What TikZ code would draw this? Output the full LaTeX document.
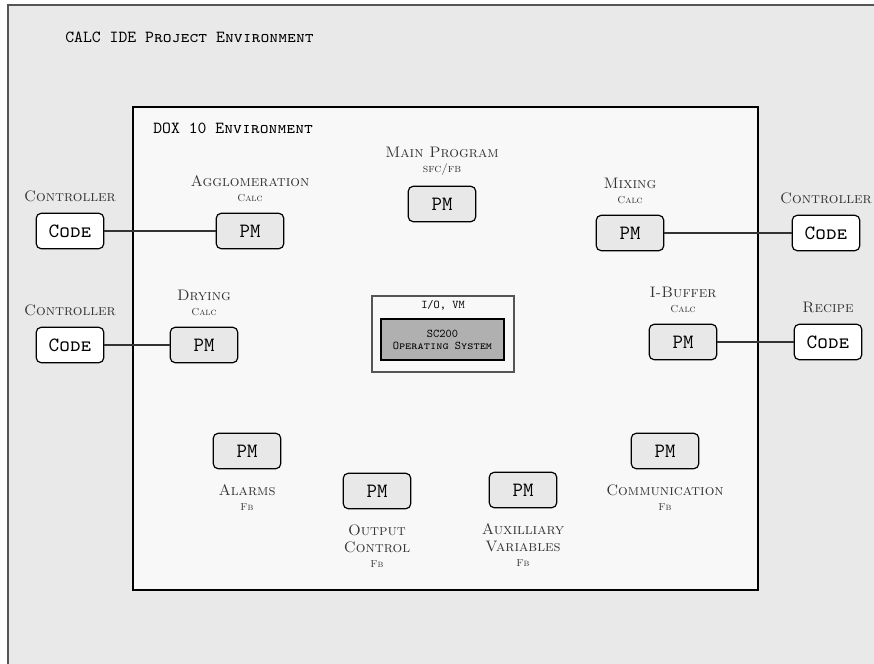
\documentclass[tikz,border=0pt]{standalone}
\usepackage{tikz}
\usetikzlibrary{positioning}
\definecolor{framegray}{HTML}{555555}
\definecolor{projfill}{HTML}{E9E9E9}
\definecolor{doxfill}{HTML}{F8F8F8}
\definecolor{pmfill}{HTML}{E8E8E8}
\definecolor{osfill}{HTML}{B0B0B0}
\definecolor{lbltext}{HTML}{333333}
\newcommand{\kind}[1]{{\fontsize{6}{7}\selectfont #1}}

\begin{document}
\begin{tikzpicture}[
  x=0.5917pt, y=-0.5917pt,
  pm/.style={rectangle, rounded corners=3pt, draw=black, fill=#1, line width=0.7pt,
             minimum width=40pt, minimum height=21pt, inner sep=0pt, font=\large\ttfamily},
  pm/.default=pmfill,
  code/.style={pm=white, font=\large\ttfamily\scshape},
  lbl/.style={font=\small\scshape, text=lbltext, align=center, inner sep=1pt},
  hdr/.style={font=\ttfamily\scshape, anchor=west, inner sep=0pt},
  wire/.style={draw=lbltext, line width=0.7pt},
]
  \clip (0,0) rectangle (874,664);
  % environments
  \draw[framegray, fill=projfill, line width=1.3pt] (8,5) rectangle (900,700);
  \draw[black, fill=doxfill, line width=1pt] (133,107) rectangle (758,590);
  \node[hdr] (proj) at (65,37) {CALC IDE Project Environment};
  \node[hdr] (dox) at (153,128) {DOX 10 Environment};

  % operating system
  \node[rectangle, draw=framegray, fill=doxfill, line width=0.7pt,
        minimum width=84pt, minimum height=45pt] (io) at (443,334) {};
  \node[font=\scriptsize\ttfamily\scshape, inner sep=0pt] (iolbl) at (443,305) {I/O, VM};
  \node[rectangle, draw=black, fill=osfill, line width=0.7pt, align=center,
        minimum width=72.8pt, minimum height=24.3pt, inner sep=1pt,
        font=\scriptsize\ttfamily\scshape] (os) at (442.5,339.5) {SC200\\[-1pt]Operating System};

  % program modules
  \node[pm] (main) at (442,204) {PM};
  \node[pm] (aggl) at (250,231) {PM};
  \node[pm] (mix)  at (630,233) {PM};
  \node[pm] (dry)  at (204,345) {PM};
  \node[pm] (ibuf) at (683,342) {PM};
  \node[pm] (alarm) at (247,451) {PM};
  \node[pm] (outc) at (377,491) {PM};
  \node[pm] (aux)  at (523,490) {PM};
  \node[pm] (comm) at (665,451) {PM};

  % controller code
  \node[code] (ctrlA) at (70,231) {Code};
  \node[code] (ctrlB) at (70,345) {Code};
  \node[code] (ctrlC) at (826,233) {Code};
  \node[code] (recipe) at (828,342) {Code};

  % labels
  \node[lbl, above=5pt of main] {Main Program\\[-2pt]{\scriptsize sfc/fb}};
  \node[lbl, above=5pt of aggl] {Agglomeration\\[-2pt]\kind{Calc}};
  \node[lbl, above=5pt of mix] {Mixing\\[-2pt]\kind{Calc}};
  \node[lbl, above=5pt of dry] {Drying\\[-2pt]\kind{Calc}};
  \node[lbl, above=5pt of ibuf] {I-Buffer\\[-2pt]\kind{Calc}};
  \node[lbl, below=8pt of alarm] {Alarms\\[-2pt]\kind{Fb}};
  \node[lbl, below=8pt of outc] {Output\\[-1pt]Control\\[-2pt]\kind{Fb}};
  \node[lbl, below=8pt of aux] {Auxilliary\\[-1pt]Variables\\[-2pt]\kind{Fb}};
  \node[lbl, below=8pt of comm] {Communication\\[-2pt]\kind{Fb}};
  \node[lbl, above=5pt of ctrlA] {Controller};
  \node[lbl, above=5pt of ctrlB] {Controller};
  \node[lbl, above=5pt of ctrlC] {Controller};
  \node[lbl, above=5pt of recipe] {Recipe};

  % connections
  \draw[wire] (ctrlA) -- (aggl);
  \draw[wire] (ctrlB) -- (dry);
  \draw[wire] (mix) -- (ctrlC);
  \draw[wire] (ibuf) -- (recipe);
\end{tikzpicture}
\end{document}
